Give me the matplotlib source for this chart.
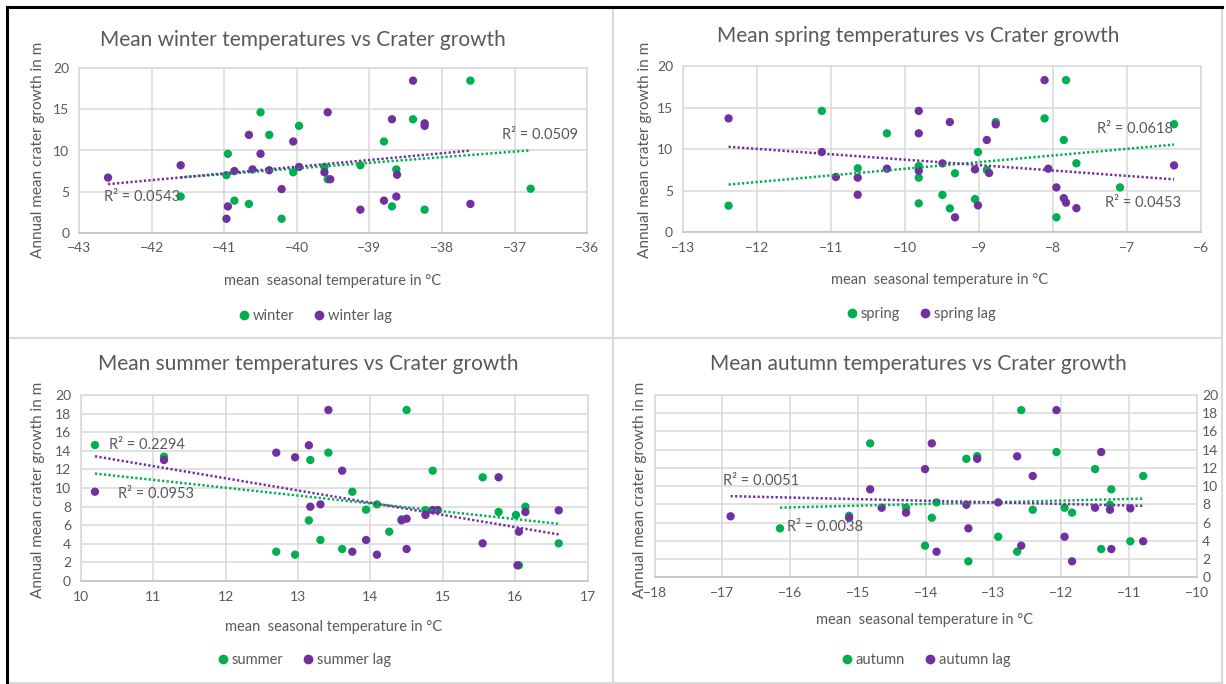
import matplotlib.pyplot as plt
import numpy as np
from matplotlib.lines import Line2D

plt.rcParams['font.family'] = ['Lato', 'DejaVu Sans']

W, H = 1226, 684
GREEN = '#00B050'
PURPLE = '#7030A0'
TXT = '#595959'
GRID = '#D9D9D9'

# winter
winter_t = [-41.6, -40.95, -40.97, -40.86, -40.66, -40.50, -40.38, -40.21, -40.05, -39.97,
            -39.62, -39.575, -39.125, -38.80, -38.69, -38.40, -38.63, -38.24, -37.61, -36.78]
winter_g = [4.4, 9.6, 7.0, 3.9, 3.5, 14.65, 11.9, 1.7, 7.35, 13.0,
            8.0, 6.5, 8.2, 11.1, 3.2, 13.8, 7.7, 2.8, 18.5, 5.35]
winter_lag_t = [-42.6, -41.6, -40.95, -40.97, -40.86, -40.66, -40.61, -40.50, -40.38, -40.21,
                -40.05, -39.97, -39.575, -39.62, -39.54, -39.125, -38.80, -38.69, -38.40, -38.62,
                -38.63, -38.24, -38.24, -37.61]
winter_lag_g = [6.7, 8.2, 3.2, 1.7, 7.5, 11.9, 7.7, 9.6, 7.6, 5.3,
                11.1, 8.0, 14.65, 7.35, 6.5, 2.8, 3.9, 13.8, 18.5, 7.05,
                4.4, 13.3, 13.0, 3.5]

# spring
spring_t = [-12.38, -11.12, -10.635, -10.24, -9.81, -9.81, -9.81, -9.49, -9.39, -9.32,
            -9.01, -9.05, -8.89, -8.77, -8.11, -7.82, -7.85, -7.95, -7.68, -7.09, -6.36]
spring_g = [3.2, 14.6, 7.7, 11.9, 7.97, 6.57, 3.48, 4.5, 2.88, 7.1,
            9.65, 4.0, 7.5, 13.26, 13.7, 18.3, 11.1, 1.8, 8.3, 5.4, 13.0]
spring_lag_t = [-12.38, -11.12, -10.93, -10.635, -10.635, -10.24, -9.81, -9.81, -9.81, -9.39,
                -9.49, -9.32, -9.05, -9.01, -8.89, -8.86, -8.77, -8.11, -8.06, -7.95,
                -7.85, -7.82, -7.68, -6.36]
spring_lag_g = [13.7, 9.65, 6.65, 6.57, 4.52, 7.65, 14.6, 11.9, 7.4, 13.26,
                8.29, 1.8, 7.57, 3.24, 11.1, 7.13, 12.98, 18.3, 7.65, 5.4,
                4.1, 3.56, 2.9, 8.05]

# summer
summer_t = [10.197, 11.15, 12.70, 12.96, 13.17, 13.15, 13.31, 13.42, 13.75, 13.61,
            13.94, 14.09, 14.26, 14.43, 14.50, 14.86, 14.76, 15.55, 15.77, 16.01,
            16.05, 16.14, 16.60]
summer_g = [14.62, 13.37, 3.15, 2.83, 13.01, 6.52, 4.41, 13.8, 9.6, 3.44,
            7.67, 8.24, 5.3, 6.63, 18.39, 11.86, 7.63, 11.15, 7.42, 7.1,
            1.69, 7.99, 4.05]
summer_lag_t = [10.197, 11.15, 12.70, 12.96, 13.15, 13.17, 13.31, 13.42, 13.61, 13.75,
                13.94, 14.09, 14.43, 14.50, 14.50, 14.76, 14.86, 14.93, 15.77, 15.55,
                16.05, 16.03, 16.14, 16.60]
summer_lag_g = [9.6, 13.01, 13.8, 13.3, 14.59, 7.99, 8.24, 18.39, 11.86, 3.15,
                4.41, 2.83, 6.52, 6.7, 3.44, 7.1, 7.63, 7.63, 11.15, 4.05,
                5.3, 1.69, 7.42, 7.6]

# autumn
autumn_t = [-16.15, -15.13, -14.82, -14.29, -14.01, -13.91, -13.84, -13.40, -13.37, -13.24,
            -12.93, -12.59, -12.65, -12.42, -12.07, -11.95, -11.84, -11.50, -11.41, -11.26,
            -11.28, -10.98, -10.79]
autumn_g = [5.37, 6.75, 14.69, 7.63, 3.47, 6.53, 8.22, 13.0, 1.75, 13.3,
            4.45, 18.34, 2.81, 7.41, 13.74, 7.63, 7.09, 11.87, 3.10, 9.65,
            7.96, 3.95, 11.11]
autumn_lag_t = [-16.88, -15.13, -14.82, -14.65, -14.29, -14.01, -13.91, -13.84, -13.40, -13.37,
                -13.24, -12.93, -12.65, -12.59, -12.42, -12.07, -11.95, -11.84, -11.50, -11.41,
                -11.28, -11.26, -10.98, -10.79]
autumn_lag_g = [6.69, 6.53, 9.65, 7.63, 7.09, 11.87, 14.69, 2.81, 7.96, 5.37,
                13.0, 8.22, 13.27, 3.47, 11.11, 18.34, 4.45, 1.75, 7.63, 13.74,
                7.41, 3.10, 7.56, 3.95]


def fx(p):
    return p / W


def fy(p):
    return 1 - p / H


def px_axes(fig, l, t, r, b):
    return fig.add_axes([l / W, 1 - b / H, (r - l) / W, (b - t) / H])


def trend(ax, x, y, color):
    # linear fit, dotted, spanning the series' own x range
    x = np.asarray(x)
    k, c = np.polyfit(x, y, 1)
    xs = np.array([x.min(), x.max()])
    ax.plot(xs, k * xs + c, color=color, lw=1.8, ls=(0, (0.9, 0.9)),
            dash_capstyle='butt', zorder=4)


def panel(fig, box, season, xs, ys, xls, yls, xlim, ystep, r2a, r2b,
          title_xy, xlabel_xy, ylabel_xy, legend_xy, right_ticks=False):
    ax = px_axes(fig, *box)
    ax.scatter(xs, ys, s=36, color=GREEN, edgecolors='none', zorder=3)
    ax.scatter(xls, yls, s=36, color=PURPLE, edgecolors='none', zorder=3)
    trend(ax, xs, ys, GREEN)
    trend(ax, xls, yls, PURPLE)
    ax.set_xlim(*xlim)
    ax.set_ylim(0, 20)
    ax.set_xticks(np.arange(xlim[0], xlim[1] + 1, 1))
    ax.set_yticks(np.arange(0, 21, ystep))
    ax.grid(True, color=GRID, lw=1.1)
    ax.set_axisbelow(True)
    for sp in ax.spines.values():
        sp.set_color(GRID)
        sp.set_linewidth(1.1)
    ax.spines['bottom'].set_color('#BFBFBF')
    ax.tick_params(length=0, labelsize=10, labelcolor=TXT, pad=7)
    if right_ticks:
        ax.yaxis.tick_right()
        ax.tick_params(axis='y', pad=4)
    for t in (r2a, r2b):
        ax.text(t[1], t[2], t[0], fontsize=10.5, color=TXT, va='center', ha='left')

    fig.text(fx(title_xy[0]), fy(title_xy[1]),
             f'Mean {season} temperatures vs Crater growth',
             fontsize=15, color=TXT, ha='center', va='center')
    fig.text(fx(xlabel_xy[0]), fy(xlabel_xy[1]), 'mean  seasonal temperature in °C',
             fontsize=10.5, color=TXT, ha='center', va='center')
    fig.text(fx(ylabel_xy[0]), fy(ylabel_xy[1]), 'Annual mean crater growth in m',
             fontsize=11, color=TXT, ha='center', va='center', rotation=90)

    handles = [Line2D([], [], ls='none', marker='o', ms=6, color=GREEN, label=season),
               Line2D([], [], ls='none', marker='o', ms=6, color=PURPLE, label=season + ' lag')]
    ax.legend(handles=handles, loc='center', ncol=2, frameon=False,
              bbox_to_anchor=(fx(legend_xy[0]), fy(legend_xy[1])),
              bbox_transform=fig.transFigure, fontsize=10.5, labelcolor=TXT,
              handletextpad=0.1, columnspacing=1.2, handlelength=1.0)
    return ax


fig = plt.figure(figsize=(W / 100, H / 100), dpi=100)

panel(fig, (79, 68.3, 587.3, 232.7), 'winter', winter_t, winter_g, winter_lag_t, winter_lag_g,
      (-43, -36), 5,
      ('R² = 0.0509', -37.17, 11.9), ('R² = 0.0543', -42.66, 4.35),
      (303, 40), (333, 281), (38, 150), (314, 316))

panel(fig, (682.7, 66, 1200.7, 232.3), 'spring', spring_t, spring_g, spring_lag_t, spring_lag_g,
      (-13, -6), 5,
      ('R² = 0.0618', -7.40, 12.4), ('R² = 0.0453', -7.29, 3.5),
      (918, 36), (940, 280), (645, 150), (920, 314))

panel(fig, (80.7, 395, 587.7, 581), 'summer', summer_t, summer_g, summer_lag_t, summer_lag_g,
      (10, 17), 2,
      ('R² = 0.2294', 10.39, 14.6), ('R² = 0.0953', 10.51, 9.35),
      (308, 364), (334, 627), (38, 490), (303, 660))

panel(fig, (654.7, 395, 1196.7, 577.3), 'autumn', autumn_t, autumn_g, autumn_lag_t, autumn_lag_g,
      (-18, -10), 2,
      ('R² = 0.0051', -16.99, 10.56), ('R² = 0.0038', -16.05, 5.52),
      (918, 364), (925, 620), (640, 490), (925, 660), right_ticks=True)

# panel frames
frame = dict(color=GRID, lw=1.5, transform=fig.transFigure)
fig.add_artist(Line2D([fx(613), fx(613)], [fy(7), fy(683)], **frame))
fig.add_artist(Line2D([fx(7), fx(1222)], [fy(338), fy(338)], **frame))
fig.add_artist(Line2D([fx(7), fx(1222)], [fy(683), fy(683)], **frame))
fig.add_artist(Line2D([fx(1222), fx(1222)], [fy(7), fy(683)], **frame))
outer = dict(color='black', lw=2.2, transform=fig.transFigure)
fig.add_artist(Line2D([fx(7), fx(7)], [fy(7), fy(683)], **outer))
fig.add_artist(Line2D([fx(7), fx(1222)], [fy(7), fy(7)], **outer))

fig.savefig('out.png', dpi=100, facecolor='white')
